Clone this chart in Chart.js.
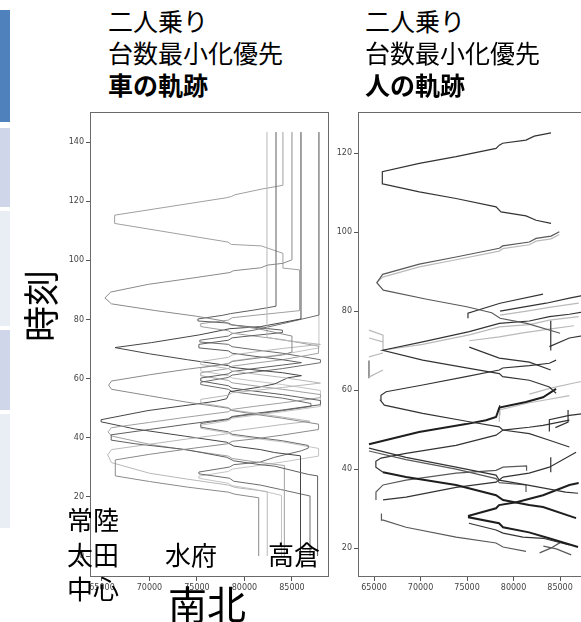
<!DOCTYPE html>
<html>
<head>
<meta charset="utf-8">
<script src="https://cdn.jsdelivr.net/npm/chart.js@4.4.0/dist/chart.umd.min.js"></script>
<style>
  body { margin: 0; width: 581px; height: 622px; overflow: hidden; background: #fff; position: relative;
         font-family: "Noto Sans CJK JP", sans-serif; }
  .strip { position: absolute; left: 0; width: 10px; }
  .t { position: absolute; color: #000; white-space: nowrap; line-height: 1; z-index: 5; }
  #carChart { position: absolute; left: 50px; top: 102px; }
  #paxChart { position: absolute; left: 318px; top: 102px; }
</style>
</head>
<body>
<div class="strip" style="top:10px;height:112px;background:#4f81bd"></div>
<div class="strip" style="top:128px;height:79px;background:#cfd6e9"></div>
<div class="strip" style="top:211px;height:115px;background:#e9edf4"></div>
<div class="strip" style="top:330px;height:80px;background:#cfd6e9"></div>
<div class="strip" style="top:414px;height:114px;background:#e9edf4"></div>

<canvas id="carChart" width="290" height="500"></canvas>
<canvas id="paxChart" width="290" height="500"></canvas>

<div class="t" style="left:108px;top:8px;font-size:25px">二人乗り</div>
<div class="t" style="left:108px;top:40px;font-size:25px">台数最小化優先</div>
<div class="t" style="left:108px;top:72px;font-size:25px;font-weight:bold">車の軌跡</div>
<div class="t" style="left:365px;top:8px;font-size:25px">二人乗り</div>
<div class="t" style="left:365px;top:40px;font-size:25px">台数最小化優先</div>
<div class="t" style="left:365px;top:72px;font-size:25px;font-weight:bold">人の軌跡</div>

<div class="t" style="left:3px;top:288px;font-size:36px;transform:rotate(-90deg);transform-origin:center">時刻</div>

<div class="t" style="left:67px;top:506px;font-size:26px">常陸</div>
<div class="t" style="left:67px;top:541px;font-size:26px">太田</div>
<div class="t" style="left:67px;top:575px;font-size:26px">中心</div>
<div class="t" style="left:165px;top:541px;font-size:26px">水府</div>
<div class="t" style="left:268px;top:541px;font-size:26px">高倉</div>
<div class="t" style="left:168px;top:583px;font-size:39px">南北</div>

<script>
// tick labels
const xTicks = [65000, 70000, 75000, 80000, 85000];
const carTimeTicks = [0, 20, 40, 60, 80, 100, 120, 140];
const paxTimeTicks = [20, 40, 60, 80, 100, 120];

// vehicle trajectories [position, minute]
const carA = [[81500,0],[81500,19.7],[79000,20.9],[78300,21.6],[74000,23.3],[70000,25.2],[66400,27.1],[66400,32.5],[70000,34.4],[74000,36.2],[78300,38.0],[78700,38.8],[81000,39.6],[84000,40.9],[87800,42.8],[87800,44.6],[84000,46.6],[81000,48.0],[78700,49.2],[78300,50.0],[74000,52.0],[70000,54.2],[66000,56.4],[65700,57.8],[66000,59.2],[70000,61.3],[74000,63.2],[78300,65.0],[78700,65.8],[81000,66.8],[84000,68.0],[85000,69.0],[85000,74.4],[81420,76.9],[78550,78.2],[77650,79.6],[74970,81.1],[70670,83.0],[66000,85.3],[65300,87.3],[65930,89.3],[69870,91.9],[73820,93.7],[78470,95.9],[78830,96.5],[81700,97.5],[82420,98.4],[84030,99.0],[85000,100.2],[85000,143.4]];
const carB = [[82400,0],[82400,21.8],[79000,23.2],[78300,24.0],[74000,26.0],[70000,28.0],[66000,31.6],[65600,34.2],[66000,36.0],[70000,37.8],[74000,39.6],[78300,41.4],[78700,42.2],[81000,43.2],[84000,44.5],[86900,45.6],[84000,47.0],[81000,48.4],[78700,49.4],[78300,50.2],[75400,51.8],[75400,53.0],[78300,54.4],[78700,55.2],[81000,56.0],[84000,57.0],[88000,58.5],[84000,60.4],[81000,61.6],[78700,62.6],[78300,63.4],[75400,64.8],[75400,65.8],[78300,67.2],[78700,68.0],[81000,69.0],[84000,70.2],[88000,71.6],[84000,73.0],[82370,74.0],[82370,143.4]];
const carC = [[87700,0],[87700,27.1],[86720,27.6],[83170,30.4],[81670,30.9],[78870,32.2],[78120,33.4],[73820,36.0],[68440,38.0],[65970,39.2],[65970,41.0],[70000,42.8],[74000,44.6],[78300,46.4],[78700,47.2],[81000,48.2],[84000,49.4],[88000,51.2],[88000,52.6],[84000,54.6],[81000,55.8],[78700,56.8],[78300,57.6],[75400,59.2],[75400,60.2],[78300,61.6],[78700,62.4],[81000,63.4],[84000,64.6],[86000,65.4],[84000,66.4],[81000,67.6],[78700,68.6],[78300,69.4],[75200,70.4],[75200,71.6],[78300,73.0],[78700,73.8],[81000,74.6],[84000,75.6],[84000,76.4],[81000,77.4],[78700,78.2],[78300,78.8],[75100,79.5],[75100,80.2],[77650,81.4],[78550,82.0],[81000,83.2],[83320,84.5],[83320,143.4]];
const carD = [[84200,0],[84200,30.6],[81000,31.9],[78700,33.0],[78300,33.8],[74000,35.8],[70000,37.8],[66000,40.6],[65630,42.0],[66000,43.4],[70000,45.2],[74000,47.0],[78300,48.8],[78700,49.6],[81000,50.6],[84000,51.8],[88000,53.6],[88000,54.6],[84000,56.4],[81000,57.6],[78700,58.6],[78300,59.4],[75400,61.0],[75400,62.0],[78300,63.4],[78700,64.2],[81000,65.2],[84000,66.4],[87800,68.6],[87800,71.0],[84000,73.2],[81000,74.4],[78700,75.4],[78300,76.2],[75400,77.6],[75400,78.6],[78300,79.8],[78700,80.6],[81000,81.4],[85800,83.0],[85800,96.8],[84050,97.4],[84050,102.4],[81770,104.9],[78610,105.4],[78260,106.2],[66330,112.5],[66330,115.3],[78120,121.2],[78610,121.6],[79000,122.2],[81770,124.1],[84050,125.4],[84050,143.4]];
const carE = [[85900,0],[85900,33.9],[83170,35.0],[81670,36.0],[78870,37.2],[78120,38.5],[73820,40.5],[68440,43.0],[64900,45.4],[64900,46.1],[69840,49.2],[74890,51.4],[77040,52.4],[78120,53.2],[78470,55.6],[81340,57.0],[83170,58.2],[84570,60.3],[86000,61.0],[84000,62.0],[81000,63.0],[78700,63.8],[78300,64.4],[74000,66.4],[70000,68.4],[66370,70.5],[70230,72.2],[75240,74.8],[78470,76.9],[81700,77.6],[83850,78.9],[85950,80.2],[85950,143.4]];
const carF = [[86900,0],[86900,20.3],[83810,22.5],[81670,24.0],[78870,25.3],[78440,26.3],[75200,27.8],[75200,28.4],[78440,30.1],[78870,30.9],[81670,31.8],[83170,33.4],[86000,35.6],[86720,36.5],[86720,37.4],[84000,39.0],[81000,40.2],[78700,41.2],[78300,42.0],[75400,43.6],[75400,44.8],[78300,46.2],[78700,47.0],[81000,48.0],[84000,49.2],[87000,50.6],[87000,51.6],[84000,53.4],[81000,54.6],[78700,55.6],[78300,56.4],[75400,58.0],[75400,58.8],[78300,60.4],[78700,61.2],[81000,62.2],[84000,63.4],[88000,65.4],[88000,66.4],[84000,68.6],[81000,69.8],[78700,70.8],[78300,71.6],[75300,72.4],[75300,73.0],[78300,74.4],[78700,75.2],[81000,76.4],[84000,78.6],[87840,81.5],[87840,143.4]];
const carG = [[83900,0],[83900,20.5],[83000,21.2],[81000,22.6],[78700,23.8],[78300,24.6],[75200,26.3],[75200,27.0],[78300,28.6],[78700,29.4],[81000,30.4],[84000,31.8],[87800,33.8],[87800,36.4],[84000,38.6],[81000,39.8],[78700,40.8],[78300,41.6],[75400,43.2],[75400,44.2],[78300,45.8],[78700,46.6],[81000,47.6],[84000,48.8],[88000,50.6],[88000,56.0],[84000,58.0],[81000,59.2],[78700,60.2],[78300,61.0],[75400,62.6],[75400,63.6],[78300,65.2],[78700,66.0],[81000,67.0],[84000,68.2],[87840,70.4],[87840,143.4]];

// passenger trajectories [position, minute]
const pax01 = [[84030,102.2],[82420,103.0],[81340,104.1],[78650,105.1],[78120,106.4],[73820,108.5],[69870,110.2],[65930,112.2],[65860,114.0],[65930,115.3],[69870,117.4],[73820,119.1],[78120,121.2],[78470,122.0],[78830,122.5],[81340,123.3],[82230,124.3],[84030,125.1]];
const pax02 = [[85000,74.4],[81420,76.9],[78550,78.2],[77650,79.6],[74970,81.1],[70670,83.0],[66000,85.3],[65300,87.2],[65930,89.3],[69870,91.9],[73820,93.7],[78470,95.9],[78830,96.5],[81700,97.5],[82420,98.4],[84030,99.0],[84920,100.1]];
const pax03 = [[65300,87.2],[65930,88.6],[69870,91.2],[73820,93.0],[78470,95.2],[78830,95.8],[81700,96.8],[82420,97.7],[84030,98.3],[84920,99.4]];
const pax04 = [[75100,78.2],[75100,79.5],[78550,82.0],[83170,84.3]];
const pax05 = [[84570,59.2],[83850,60.8],[81700,62.5],[78830,63.4],[78470,64.2],[75240,65.5],[70230,67.6],[65930,70.1],[70230,72.2],[75240,74.8],[78470,76.9],[81700,77.5],[83850,78.6],[86000,79.2],[88000,80.0]];
const pax06 = [[65930,70.1],[70230,71.6],[75240,74.0],[78470,76.0],[81700,76.6],[83850,77.7],[87000,78.6]];
const pax07 = [[86000,45.6],[83850,47.3],[81700,49.0],[78830,49.9],[78470,50.7],[75240,52.0],[70230,54.1],[66110,56.2],[65700,57.4],[65750,58.7],[66300,59.6],[70230,61.3],[74890,63.4],[78470,65.1],[78830,65.6],[81700,66.2],[83850,66.8],[84570,67.6]];
const pax08 = [[64460,46.3],[69840,49.4],[74890,51.4],[77040,52.4],[78120,53.2],[78470,55.6],[81340,57.0],[83170,58.2],[84570,60.3]];
const pax09 = [[86930,33.9],[85600,34.2],[81400,36.0],[78470,37.2],[78120,38.5],[73820,40.5],[68440,43.0],[64460,45.3]];
const pax10 = [[81340,34.2],[81340,36.0],[78470,36.6],[78120,37.6],[73820,40.0],[68440,42.4],[64460,44.6]];
const pax11 = [[86720,27.6],[83170,30.4],[81670,30.9],[78870,32.2],[78120,33.4],[73820,36.0],[68440,38.0],[65970,39.2]];
const pax12 = [[65970,39.2],[65200,40.5],[65200,42.0],[65750,42.8],[68440,44.0],[73820,46.0],[78120,48.6],[78870,49.9],[81670,50.6],[83170,51.1],[86000,52.4]];
const pax13 = [[65210,32.2],[65210,34.2],[65970,36.0],[68440,37.2],[73820,39.0],[78120,39.7],[78870,40.5],[81400,40.8],[81400,39.6]];
const pax14 = [[65970,32.2],[68440,32.9],[73820,35.4],[78120,36.7],[78870,38.0],[81670,39.0],[83850,40.5],[86720,44.3]];
const pax15 = [[86930,20.3],[83810,22.5],[81670,24.0],[78870,25.3],[78440,26.3],[75200,27.8],[75200,28.2],[78120,30.1],[78440,30.9],[80300,31.6],[83170,33.4],[86000,36.0],[87000,36.5]];
const pax16 = [[81340,19.2],[78870,20.3],[78120,21.3],[73820,22.8],[68440,25.3],[66000,27.1],[65800,27.1],[65800,28.8]];
const pax17 = [[86000,20.8],[83170,22.5],[81000,22.8],[78870,23.8],[78120,24.6],[75200,26.3]];
const pax18 = [[83200,20.5],[84600,19.8],[86200,18.3]];
const pax19 = [[82800,18.8],[84000,20.0],[85000,21.4]];
const pax20 = [[78470,52.0],[78470,55.0],[81700,56.8],[83850,57.7],[86000,58.6]];
const pax21 = [[81700,59.0],[84000,60.5],[86500,61.8],[88000,62.5]];
const pax22 = [[83850,49.5],[83850,52.5],[86000,53.6],[88000,54.2]];
const pax23 = [[64460,75.2],[65970,73.9],[65970,70.1]];
const pax24 = [[64460,73.2],[65970,72.2]];
const pax25 = [[64460,68.4],[65970,69.4]];
const pax26 = [[64460,63.3],[65970,65.1]];
const pax27 = [[64460,63.0],[64460,67.5]];
const pax28 = [[78550,80.0],[81000,81.0],[83500,82.0],[86000,83.3],[87500,84.0]];
const pax29 = [[78550,79.0],[81420,80.0],[84000,81.0],[87000,82.0]];
const pax30 = [[83850,71.0],[86000,73.2],[88000,74.0]];
const pax31 = [[84000,70.0],[84000,77.6]];
const pax32 = [[75240,72.5],[78470,73.5],[81000,74.5],[84000,75.5],[86500,76.3]];
const pax33 = [[84000,65.1],[81700,67.1],[78470,68.1],[75240,70.9]];
const pax34 = [[78500,53.6],[78500,56.2]];
const pax35 = [[84500,50.5],[85860,51.9],[85860,55.0]];
const pax36 = [[84000,39.2],[84000,43.0]];

const carPaths = [carA, carB, carC, carD, carE, carF, carG];
const carColors = ['#8a8a8a', '#b8b8b8', '#5e5e5e', '#a0a0a0', '#454545', '#6c6c6c', '#c4c4c4'];

const paxPaths = [pax01, pax02, pax03, pax04, pax05, pax06, pax07, pax08, pax09, pax10, pax11, pax12,
  pax13, pax14, pax15, pax16, pax17, pax18, pax19, pax20, pax21, pax22, pax23, pax24, pax25, pax26,
  pax27, pax28, pax29, pax30, pax31, pax32, pax33, pax34, pax35, pax36];
const dark = '#333333', mid = '#595959', light = '#bababa';
const paxColors = [dark, mid, light, dark, dark, light, dark, '#1e1e1e', dark, mid, '#1e1e1e', dark,
  mid, dark, '#1e1e1e', mid, dark, mid, mid, light, light, dark, light, light, light, light,
  mid, dark, light, dark, dark, light, dark, dark, dark, dark];
const paxWidths = paxPaths.map((p, i) => [7, 10, 14].includes(i) ? 2 : 1.2);

// matplotlib-like full frame round the plot area
const frame = {
  id: 'frame',
  afterDraw(chart) {
    const { ctx, chartArea: a } = chart;
    ctx.save();
    ctx.strokeStyle = '#6a6a6a';
    ctx.lineWidth = 1;
    ctx.strokeRect(Math.round(a.left) + 0.5, Math.round(a.top) + 0.5, Math.round(a.width) - 1, Math.round(a.height) - 1);
    ctx.restore();
  }
};

function makeChart(id, paths, colors, widths, xMin, xMax, yMin, yMax, yTicks) {
  const datasets = paths.map((p, i) => ({
    data: p.map(d => ({ x: d[0], y: d[1] })),
    showLine: true,
    borderColor: colors[i],
    borderWidth: widths[i],
    pointRadius: 0,
    fill: false,
    tension: 0
  }));
  const tickFont = { family: 'DejaVu Sans', size: 8 };
  return new Chart(document.getElementById(id), {
    type: 'scatter',
    data: { datasets },
    options: {
      responsive: false,
      animation: false,
      layout: { padding: { top: 10, right: 11, left: 0, bottom: 0 } },
      plugins: { legend: { display: false }, tooltip: { enabled: false } },
      scales: {
        x: {
          type: 'linear', min: xMin, max: xMax,
          afterBuildTicks: s => { s.ticks = xTicks.map(v => ({ value: v })); },
          afterFit: s => { s.height = 25; },
          grid: { drawOnChartArea: false, tickLength: 4, color: '#555' },
          border: { display: false },
          ticks: { font: tickFont, color: '#444', maxRotation: 0, padding: 2, callback: v => String(v) }
        },
        y: {
          type: 'linear', min: yMin, max: yMax,
          afterBuildTicks: s => { s.ticks = yTicks.map(v => ({ value: v })); },
          afterFit: s => { s.width = 40; },
          grid: { drawOnChartArea: false, tickLength: 4, color: '#555' },
          border: { display: false },
          ticks: { font: tickFont, color: '#444', padding: 2, callback: v => String(v) }
        }
      }
    },
    plugins: [frame]
  });
}

makeChart('carChart', carPaths, carColors, carPaths.map(() => 1), 63737, 88900, -7.1, 150.2, carTimeTicks);
makeChart('paxChart', paxPaths, paxColors, paxWidths, 63280, 88970, 12.7, 130.4, paxTimeTicks);
</script>
</body>
</html>
